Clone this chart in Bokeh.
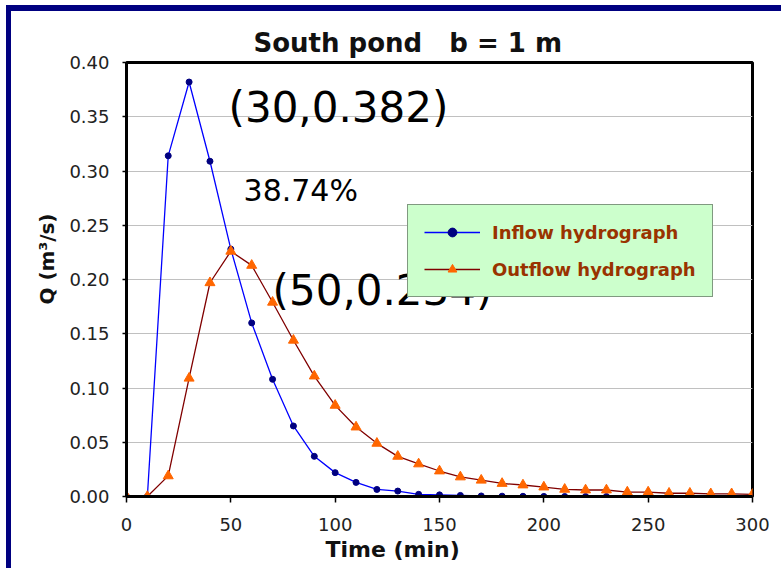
from bokeh.plotting import figure
from bokeh.models import (Range1d, FixedTicker, NumeralTickFormatter, Label, Legend,
                          LegendItem, Title, Spacer)
from bokeh.layouts import row, column
from bokeh.embed import file_html
from bokeh.resources import INLINE

# ---- data ----
time_min = [0, 10, 20, 30, 40, 50, 60, 70, 80, 90, 100, 110, 120, 130, 140, 150,
            160, 170, 180, 190, 200, 210, 220, 230, 240, 250, 260, 270, 280, 290, 300]
inflow = [0.0, 0.0, 0.314, 0.382, 0.309, 0.228, 0.160, 0.108, 0.065, 0.037, 0.022,
          0.013, 0.0065, 0.005, 0.002, 0.0015, 0.001, 0.0005, 0.0003, 0.0002, 0.0001,
          0.0, 0.0, 0.0, 0.0, 0.0, 0.0, 0.0, 0.0, 0.0, 0.0]
outflow = [0.0, 0.0, 0.019, 0.109, 0.197, 0.226, 0.213, 0.179, 0.144, 0.111, 0.084,
           0.064, 0.049, 0.037, 0.030, 0.0235, 0.018, 0.015, 0.012, 0.0106, 0.0087,
           0.0066, 0.006, 0.006, 0.0041, 0.0041, 0.003, 0.003, 0.0025, 0.0025, 0.002]
y_ticks = [0.0, 0.05, 0.10, 0.15, 0.20, 0.25, 0.30, 0.35, 0.40]
x_ticks = [0, 50, 100, 150, 200, 250, 300]

title_text = "South pond \u00a0 b = 1 m"
x_label = "Time (min)"
y_label = "Q (m\u00b3/s)"
peak_in_text = "(30,0.382)"
peak_out_text = "(50,0.234)"
reduction_text = "38.74%"

p = figure(width=770, height=557, output_backend="svg", toolbar_location=None,
           x_range=Range1d(0, 300), y_range=Range1d(0, 0.4),
           min_border_left=115, min_border_right=29, min_border_top=51,
           min_border_bottom=72)
p.background_fill_color = "white"
p.border_fill_color = "white"
p.outline_line_color = "black"
p.outline_line_width = 3

# title
p.title.text = title_text
p.title.align = "left"
p.title.offset = 127
p.title.text_font = "DejaVu Sans"
p.title.text_font_style = "bold"
p.title.text_font_size = "26px"
p.title.text_color = "#111111"
p.title.standoff = 10

# grid
p.xgrid.grid_line_color = None
p.ygrid.grid_line_color = "#c0c0c0"
p.ygrid.grid_line_width = 1

# axes
p.xaxis.ticker = FixedTicker(ticks=x_ticks)
p.yaxis.ticker = FixedTicker(ticks=y_ticks)
p.yaxis.formatter = NumeralTickFormatter(format="0.00")
for ax in (p.xaxis[0], p.yaxis[0]):
    ax.axis_line_color = "black"
    ax.axis_line_width = 3
    ax.major_tick_line_color = "black"
    ax.major_tick_line_width = 1.5
    ax.minor_tick_line_color = None
    ax.major_tick_in = 0
    ax.major_label_text_font = "DejaVu Sans"
    ax.major_label_text_font_size = "18px"
    ax.major_label_text_color = "#222222"
p.xaxis.major_tick_out = 6
p.xaxis.major_label_standoff = 15
p.yaxis.major_tick_out = 4
p.yaxis.major_label_standoff = 13

# axis labels as side titles (positioned like the original)
p.add_layout(Title(text=x_label, align="left", offset=199, text_font="DejaVu Sans",
                   text_font_style="bold", text_font_size="22px", text_color="#111111",
                   standoff=2), "below")
p.add_layout(Title(text=y_label, align="right", offset=151, text_font="DejaVu Sans",
                   text_font_style="bold", text_font_size="20px", text_color="#111111",
                   standoff=15), "left")

# series
r_in_line = p.line(time_min, inflow, line_color="#0000ff", line_width=1.3)
r_in_pts = p.scatter(time_min, inflow, marker="circle", size=6,
                     fill_color="#000080", line_color="#000080")
r_out_line = p.line(time_min, outflow, line_color="#800000", line_width=1.3)
r_out_pts = p.scatter(time_min, outflow, marker="triangle", size=10,
                      fill_color="#ff6600", line_color="#ff6600")

legend = Legend(items=[LegendItem(label="Inflow hydrograph", renderers=[r_in_line, r_in_pts]),
                       LegendItem(label="Outflow hydrograph", renderers=[r_out_line, r_out_pts])],
                location=(281, 199))
legend.background_fill_color = "#ccffcc"
legend.background_fill_alpha = 1
legend.border_line_color = "#333333"
legend.border_line_width = 1.5
legend.label_text_font = "DejaVu Sans"
legend.label_text_font_style = "bold"
legend.label_text_font_size = "18px"
legend.label_text_color = "#993300"
legend.padding = 16
legend.margin = 0
legend.glyph_width = 56
legend.glyph_height = 22
legend.label_height = 22
legend.label_standoff = 12
legend.spacing = 15
p.add_layout(legend, "center")

# annotations
p.add_layout(Label(x=48.9, y=0.3588, text=peak_in_text, text_align="left",
                   text_baseline="alphabetic", text_font="DejaVu Sans",
                   text_font_size="42px", text_color="black"))
p.add_layout(Label(x=56.1, y=0.2817, text=reduction_text, text_align="left",
                   text_baseline="alphabetic", text_font="DejaVu Sans",
                   text_font_size="30px", text_color="black"))
p.add_layout(Label(x=70.0, y=0.1902, text=peak_out_text, text_align="left",
                   text_baseline="alphabetic", text_font="DejaVu Sans",
                   text_font_size="42px", text_color="black"))

# navy frame of the slide (top and left edges) built from layout spacers
left_bar = Spacer(width=5, height=563, background="#000080")
top_bar = Spacer(width=770, height=6, background="#000080")
page = row(left_bar, column(top_bar, p, spacing=0), spacing=0)
page.margin = (5, 0, 0, 6)

open("out.html", "w").write(file_html(page, INLINE))
